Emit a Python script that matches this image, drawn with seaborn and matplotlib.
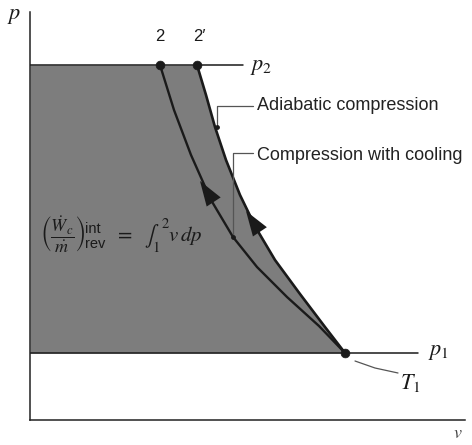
import numpy as np
import pandas as pd
import matplotlib
matplotlib.use("Agg")
import matplotlib.pyplot as plt
import seaborn as sns

# ---- data (v, p in arbitrary units) ----
p1 = 6.7
p2 = 35.5
v_point2 = 13.0
v_point2p = 16.7
v_point1 = 31.5

# compression with cooling (state 1 -> state 2)
cool_v = [13.0, 14.4, 16.1, 18.1, 20.3, 22.7, 25.7, 28.9, 31.5]
cool_p = [35.5, 31.0, 26.5, 22.0, 18.3, 15.3, 12.3, 9.4, 6.7]

# adiabatic compression (state 1 -> state 2')
adia_v = [16.7, 17.6, 18.5, 19.6, 21.0, 22.6, 24.5, 27.0, 29.5, 31.5]
adia_p = [35.5, 32.5, 29.3, 26.0, 22.5, 19.2, 16.0, 12.6, 9.3, 6.7]

state_labels = ["2", "2\u2032", "1"]
state_v = [v_point2, v_point2p, v_point1]
state_p = [p2, p2, p1]

line_labels = ["Adiabatic compression", "Compression with cooling"]

# ---- figure ----
sns.set_theme(style="white")
plt.rcParams["font.family"] = ["Liberation Sans", "DejaVu Sans"]
plt.rcParams["mathtext.fontset"] = "stix"

W, H = 472, 445
fig = plt.figure(figsize=(W / 100, H / 100), dpi=100)
ax = fig.add_axes([30 / W, 25 / H, 435 / W, 408 / H])
ax.set_xlim(0, 43.5)
ax.set_ylim(0, 40.8)
ax.set_xticks([])
ax.set_yticks([])
for s in ["top", "right"]:
    ax.spines[s].set_visible(False)
for s in ["left", "bottom"]:
    ax.spines[s].set_color("#222222")
    ax.spines[s].set_linewidth(1.1)

ink = "#1a1a1a"
shade = "#7d7d7d"

# shaded area between p1 and p2 left of the adiabatic curve
ax.fill_betweenx(adia_p, 0, adia_v, color=shade, lw=0, zorder=1)

# isobars
ax.plot([0, 21.3], [p2, p2], color=ink, lw=1.1, zorder=2)
ax.plot([0, 38.8], [p1, p1], color=ink, lw=1.1, zorder=2)

cool_df = pd.DataFrame({"v": cool_v, "p": cool_p})
adia_df = pd.DataFrame({"v": adia_v, "p": adia_p})
sns.lineplot(data=cool_df, x="v", y="p", sort=False, estimator=None,
             color=ink, lw=1.7, ax=ax, zorder=3)
sns.lineplot(data=adia_df, x="v", y="p", sort=False, estimator=None,
             color=ink, lw=1.9, ax=ax, zorder=3)

states = pd.DataFrame({"v": state_v, "p": state_p, "lab": state_labels})
sns.scatterplot(data=states, x="v", y="p", color=ink, s=40, edgecolor=ink,
                ax=ax, zorder=4, legend=False)
ax.set_xlabel("")
ax.set_ylabel("")

# state labels
ax.text(state_v[0], 37.6, state_labels[0], ha="center", va="bottom",
        fontsize=12, color=ink)
ax.text(state_v[1] + 0.2, 37.6, state_labels[1], ha="center", va="bottom",
        fontsize=12, color=ink)

# direction arrows
arrow_kw = dict(arrowstyle="-|>,head_length=1.5,head_width=0.5",
                color=ink, lw=0.01, shrinkA=0, shrinkB=0)
ax.annotate("", xy=(17.0, 23.9), xytext=(18.5, 21.6), arrowprops=arrow_kw, zorder=5)
ax.annotate("", xy=(21.6, 20.9), xytext=(23.2, 18.5), arrowprops=arrow_kw, zorder=5)

# leader lines
lead = "#555555"
ax.plot([18.7, 18.7, 22.3], [29.3, 31.4, 31.4], color=lead, lw=0.9, zorder=5)
ax.plot([20.3, 20.3, 22.3], [18.3, 26.7, 26.7], color=lead, lw=0.9, zorder=5)
ax.scatter([20.3, 18.7], [18.3, 29.3], s=6, color=ink, zorder=6)
ax.text(22.7, 31.4, line_labels[0], ha="left", va="center", fontsize=13, color="#222222")
ax.text(22.7, 26.4, line_labels[1], ha="left", va="center", fontsize=13, color="#222222")

# T1 leader
ax.plot([32.5, 34.5, 36.8], [5.9, 5.2, 4.7], color=lead, lw=0.9)

# pressure / temperature labels
ax.text(22.0, p2 - 0.2, r"$p_2$", ha="left", va="center", fontsize=16, color=ink)
ax.text(39.8, p1 + 0.1, r"$p_1$", ha="left", va="center", fontsize=16, color=ink)
ax.text(37.0, 3.7, r"$T_1$", ha="left", va="center", fontsize=16, color=ink)

# axis labels
ax.text(-1.6, 40.4, r"$p$", ha="center", va="center", fontsize=16, color=ink, clip_on=False)
ax.text(42.8, -1.4, r"$v$", ha="center", va="center", fontsize=13, color="#444444", clip_on=False)

# work formula
ax.text(1.0, 18.6, r"$\left(\dfrac{\dot{W}_c}{\dot{m}}\right)$", ha="left", va="center",
        fontsize=13, color=ink)
ax.text(5.5, 19.1, "int", ha="left", va="center", fontsize=10.5, color=ink)
ax.text(5.5, 17.6, "rev", ha="left", va="center", fontsize=10.5, color=ink)
ax.text(8.4, 18.4, r"$=\ \ \int_1^{\,2} v\,dp$", ha="left", va="center", fontsize=15, color=ink)

fig.savefig("out.png", dpi=100)
